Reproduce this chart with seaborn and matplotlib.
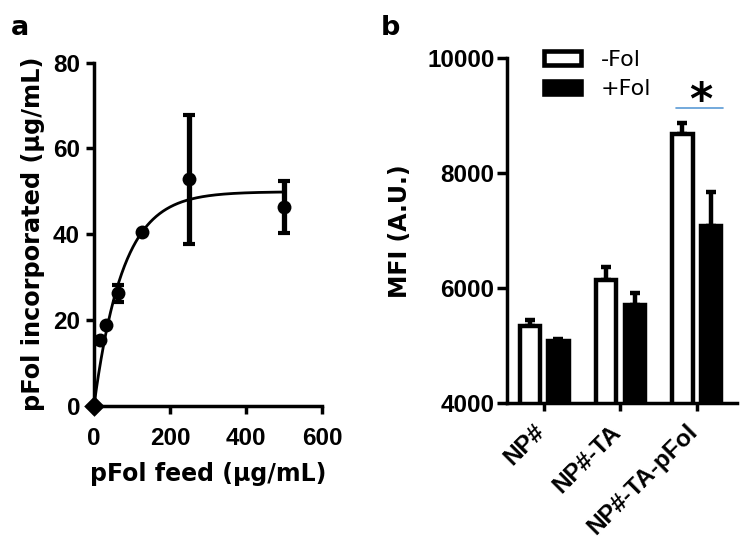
import numpy as np
import pandas as pd
import matplotlib
matplotlib.use("Agg")
import matplotlib.pyplot as plt
import matplotlib.transforms as mtransforms
import seaborn as sns
from matplotlib.patches import Patch

sns.set_theme(style="ticks")
plt.rcParams['font.family'] = ['DejaVu Sans']
plt.rcParams['font.weight'] = 'bold'
plt.rcParams['axes.labelweight'] = 'bold'
plt.rcParams['text.color'] = 'black'
plt.rcParams['axes.labelcolor'] = 'black'
plt.rcParams['xtick.color'] = 'black'
plt.rcParams['ytick.color'] = 'black'

# ---- Panel a data ----
feed = [0, 15.6, 31.25, 62.5, 125, 250, 500]
incorporated = [0, 15.4, 18.9, 26.2, 40.6, 52.8, 46.4]
incorporated_err = [0, 0, 0, 1.9, 0, 15.0, 6.1]
fit_ymax = 49.9
fit_k = 0.0132

# ---- Panel b data ----
groups = ["NP#", "NP#-TA", "NP#-TA-pFol"]
conditions = ["-Fol", "+Fol"]
mfi_minus = [5336, 6140, 8692]
mfi_plus = [5075, 5711, 7083]
err_minus = [105, 230, 175]
err_plus = [50, 215, 585]

LW = 2.5
TICKFONT = 'Liberation Sans'

fig = plt.figure(figsize=(7.49, 5.56), dpi=100)
axa = fig.add_axes([94 / 749, 1 - 405.7 / 556, 228 / 749, 343 / 556])
axb = fig.add_axes([507 / 749, 1 - 403.3 / 556, 230 / 749, 345 / 556])

# Panel a
xfit = np.linspace(0, 500, 400)
yfit = fit_ymax * (1 - np.exp(-fit_k * xfit))
sns.lineplot(x=xfit, y=yfit, ax=axa, color='black', lw=2.0)
axa.errorbar(feed, incorporated, yerr=incorporated_err, fmt='none', ecolor='black',
             elinewidth=3.8, capsize=4.6, capthick=3.0, zorder=3)
sns.scatterplot(x=feed[1:], y=incorporated[1:], ax=axa, color='black', s=100, linewidth=0,
                zorder=4, clip_on=False)
sns.scatterplot(x=feed[:1], y=incorporated[:1], ax=axa, color='black', s=110, marker='D',
                linewidth=0, zorder=4, clip_on=False)
axa.set_xlim(0, 600)
axa.set_ylim(0, 80)
axa.set_xticks([0, 200, 400, 600])
axa.set_yticks([0, 20, 40, 60, 80])
axa.set_xlabel("pFol feed (\u03bcg/mL)", fontsize=17, fontweight='bold', labelpad=9)
axa.set_ylabel("pFol incorporated (\u03bcg/mL)", fontsize=17.3, fontweight='bold', labelpad=6)

# Panel b
df = pd.DataFrame({
    "group": groups * 2,
    "cond": [conditions[0]] * 3 + [conditions[1]] * 3,
    "mfi": mfi_minus + mfi_plus,
})
sns.barplot(data=df, x="group", y="mfi", hue="cond", order=groups, hue_order=conditions,
            palette={"-Fol": "white", "+Fol": "black"}, errorbar=None, width=0.744, gap=0.29,
            edgecolor='black', linewidth=3.2, ax=axb, legend=False)
patches = axb.patches[:6]
errs = err_minus + err_plus
vals = mfi_minus + mfi_plus
xs = [p.get_x() + p.get_width() / 2 for p in patches]
axb.errorbar(xs, vals, yerr=[np.zeros(6), errs], fmt='none', ecolor='black',
             elinewidth=3.2, capsize=3.3, capthick=3.2, zorder=0)
axb.set_ylim(4000, 10000)
axb.set_xlim(-0.49, 2.53)
axb.set_yticks([4000, 6000, 8000, 10000])
axb.set_xlabel("")
axb.set_ylabel("MFI (A.U.)", fontsize=17, fontweight='bold', labelpad=11)
axb.set_xticks(range(3))
axb.set_xticklabels(groups, rotation=45, ha='right', va='center', rotation_mode='anchor')

# significance
axb.plot([1.728, 2.341], [9141, 9141], color='#5b9bd5', lw=1.2, clip_on=False)
axb.text(2.056, 9250, "*", fontsize=32, fontweight='bold', ha='center', va='center')

handles = [Patch(facecolor='white', edgecolor='black', linewidth=3.3, label='-Fol'),
           Patch(facecolor='black', edgecolor='black', linewidth=3.3, label='+Fol')]
leg = axb.legend(handles=handles, loc='upper left', bbox_to_anchor=(544 / 749, 1 - 50 / 556),
                 bbox_transform=fig.transFigure, borderpad=0, borderaxespad=0,
                 frameon=False, prop={'size': 16, 'weight': 'normal'},
                 handlelength=1.67, handleheight=0.59, labelspacing=0.42, handletextpad=0.9)

for ax in (axa, axb):
    for s in ['top', 'right']:
        ax.spines[s].set_visible(False)
    for s in ['left', 'bottom']:
        ax.spines[s].set_linewidth(LW)
        ax.spines[s].set_color('black')
    ax.tick_params(axis='both', direction='out', length=6, width=LW, colors='black',
                   labelsize=17.5, labelfontfamily=TICKFONT)
    for lab in ax.get_xticklabels() + ax.get_yticklabels():
        lab.set_fontweight('bold')
axa.tick_params(axis='x', pad=9)
axa.tick_params(axis='y', pad=4)
axb.tick_params(axis='y', length=7, pad=2)
axb.tick_params(axis='x', length=6, pad=12, labelsize=17.5)
offset = mtransforms.ScaledTranslation(-3 / 100, 0, fig.dpi_scale_trans)
for lab in axb.get_xticklabels():
    lab.set_transform(lab.get_transform() + offset)

fig.text(11 / 749, 1 - 35 / 556, "a", fontsize=19.5, fontweight='bold', va='baseline', color='black')
fig.text(381 / 749, 1 - 35 / 556, "b", fontsize=19.5, fontweight='bold', va='baseline', color='black')

fig.savefig("out.png", dpi=100, facecolor='white')
